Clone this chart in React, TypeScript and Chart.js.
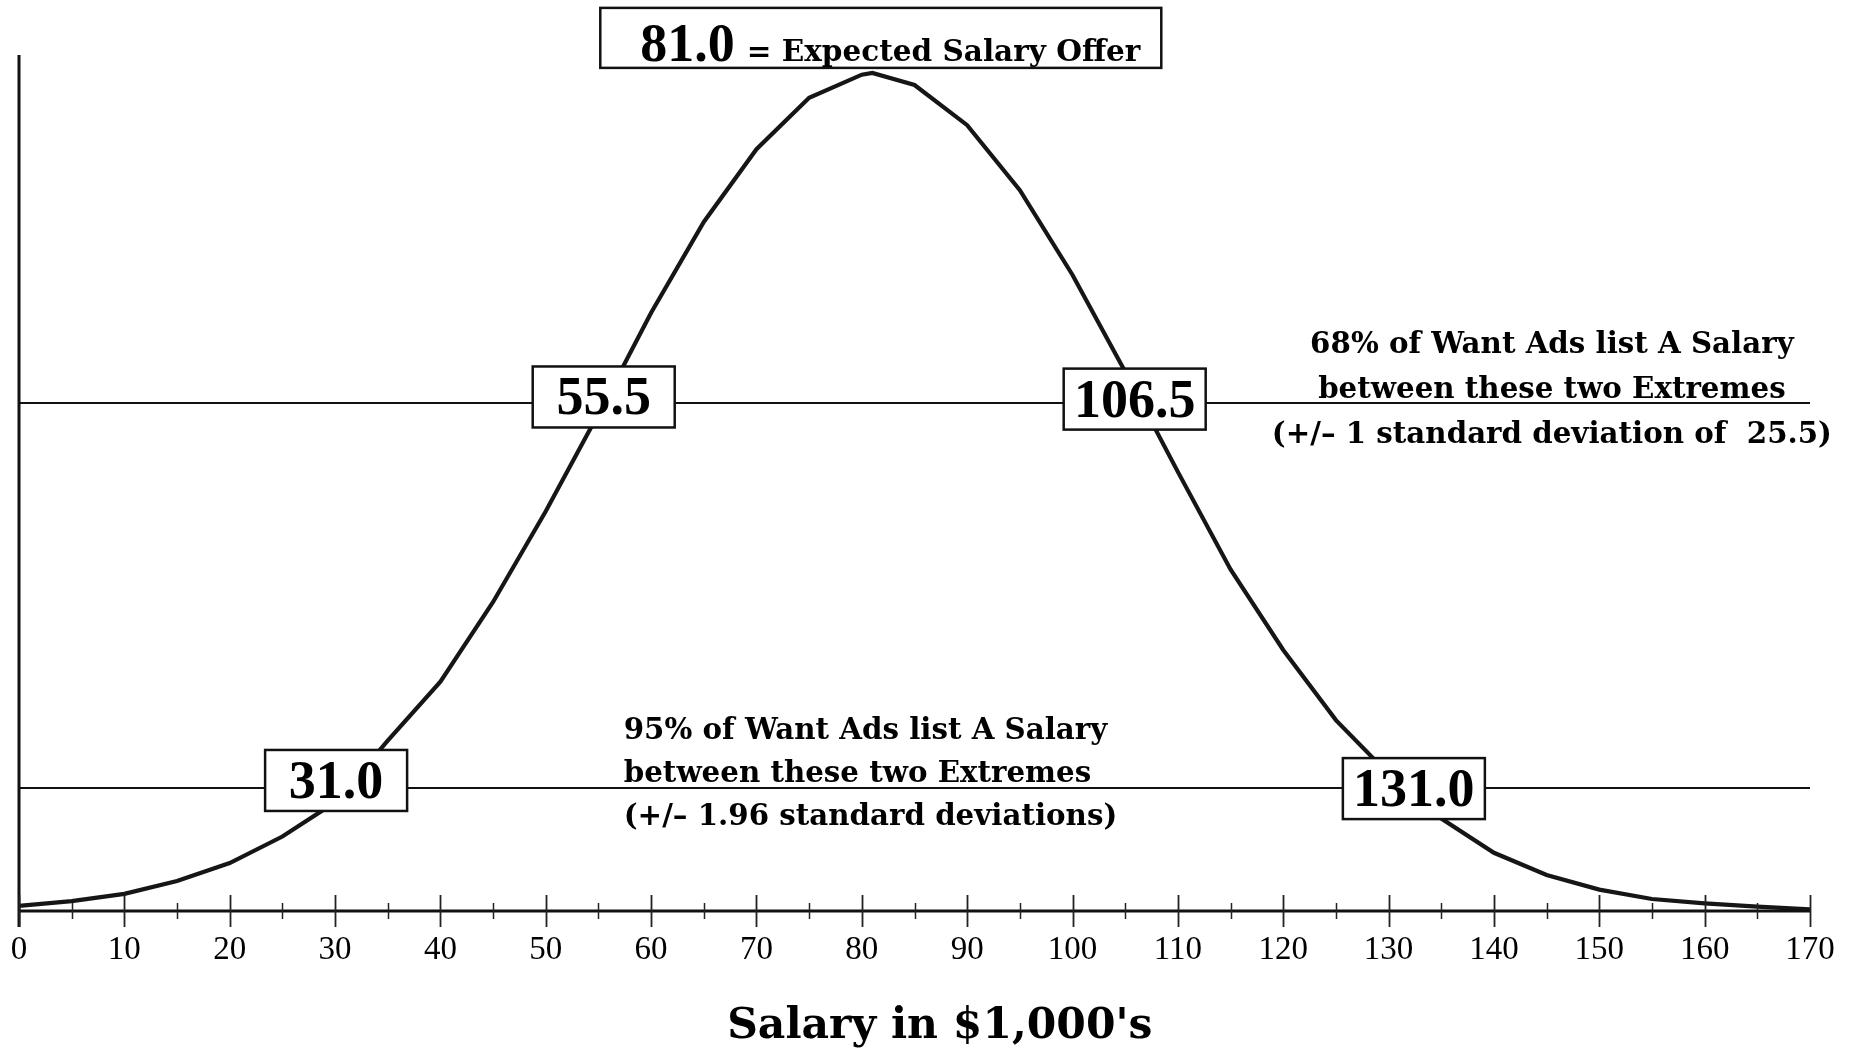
import React, { useEffect, useRef } from 'react';
import { Chart, registerables } from 'chart.js';

Chart.register(...registerables);

// ---- Data ----
const salaryX = [0, 5, 10, 15, 20, 25, 30, 35, 40, 45, 50, 55, 60, 65, 70, 75, 80, 81, 85, 90, 95, 100, 105, 110, 115, 120, 125, 130, 135, 140, 145, 150, 155, 160, 165, 170];
const frequencyY = [0.6, 1.16, 2.0, 3.5, 5.6, 8.7, 12.7, 19.9, 26.8, 36.1, 46.7, 58.1, 69.9, 80.5, 89.0, 95.0, 97.7, 97.9, 96.5, 91.8, 84.2, 74.3, 63.0, 51.3, 39.9, 30.5, 22.3, 16.0, 10.8, 6.8, 4.2, 2.5, 1.4, 0.9, 0.5, 0.2];

const xTickValues = [0, 10, 20, 30, 40, 50, 60, 70, 80, 90, 100, 110, 120, 130, 140, 150, 160, 170];
const xTickLabels = ['0', '10', '20', '30', '40', '50', '60', '70', '80', '90', '100', '110', '120', '130', '140', '150', '160', '170'];
const xMinorTicks = [5, 15, 25, 35, 45, 55, 65, 75, 85, 95, 105, 115, 125, 135, 145, 155, 165];

const xMin = 0;
const xMax = 170;
const yMin = 0;
const yMax = 100;

// level of the horizontal range lines (same units as frequencyY)
const oneSdLevel = 59.35;
const twoSdLevel = 14.37;

// value boxes
const boxLabels = ['55.5', '106.5', '31.0', '131.0'];
const boxX = [55.5, 105.9, 30.1, 132.4];
const boxY = [60.05, 59.8, 15.25, 14.3];

// mean box
const meanValueLabel = '81.0';
const meanText = '= Expected Salary Offer';
const meanBoxX = 81.8;
const meanBoxY = 102.0;

// notes
const note68Lines = ['68% of Want Ads list A Salary', 'between these two Extremes', '(+/\u2013 1 standard deviation of  25.5)'];
const note68X = 145.5;
const note68Y = 65.19;
const note95Lines = ['95% of Want Ads list A Salary', 'between these two Extremes', '(+/\u2013 1.96 standard deviations)'];
const note95X = 57.4;
const note95Y = 20.09;

const axisTitle = "Salary in $1,000's";
const axisTitleX = 87.4;

const INK = '#111111';
const TEXT_FONT = '"DejaVu Serif", "Liberation Serif", serif';
const NUM_FONT = '"Liberation Serif", "DejaVu Serif", serif';

export default function App() {
  const canvasRef = useRef<HTMLCanvasElement | null>(null);

  useEffect(() => {
    const canvas = canvasRef.current;
    if (!canvas) return;

    const annotate = {
      id: 'annotate',
      afterDatasetsDraw(chart: any) {
        const ctx = chart.ctx as CanvasRenderingContext2D;
        const xs = chart.scales.x;
        const ys = chart.scales.y;
        const axisY = ys.getPixelForValue(yMin);
        ctx.save();

        // axes lines
        ctx.strokeStyle = INK;
        ctx.lineWidth = 3;
        ctx.beginPath();
        ctx.moveTo(xs.getPixelForValue(xMin), axisY);
        ctx.lineTo(xs.getPixelForValue(xMax), axisY);
        ctx.stroke();
        ctx.beginPath();
        ctx.moveTo(xs.getPixelForValue(xMin), ys.getPixelForValue(yMax));
        ctx.lineTo(xs.getPixelForValue(xMin), axisY + 16);
        ctx.stroke();

        // ticks
        ctx.strokeStyle = '#222';
        ctx.lineWidth = 1.8;
        xTickValues.forEach((v) => {
          const px = Math.round(xs.getPixelForValue(v)) + 0.5;
          ctx.beginPath();
          ctx.moveTo(px, axisY - 16);
          ctx.lineTo(px, axisY + 16);
          ctx.stroke();
        });
        ctx.lineWidth = 1.5;
        xMinorTicks.forEach((v) => {
          const px = Math.round(xs.getPixelForValue(v)) + 0.5;
          ctx.beginPath();
          ctx.moveTo(px, axisY - 8);
          ctx.lineTo(px, axisY + 8);
          ctx.stroke();
        });

        // value boxes
        const bw = 142;
        const bh = 61;
        boxLabels.forEach((lab, i) => {
          const cx = xs.getPixelForValue(boxX[i]);
          const cy = ys.getPixelForValue(boxY[i]);
          ctx.fillStyle = '#fff';
          ctx.fillRect(cx - bw / 2, cy - bh / 2, bw, bh);
          ctx.strokeStyle = INK;
          ctx.lineWidth = 2.5;
          ctx.strokeRect(cx - bw / 2, cy - bh / 2, bw, bh);
          ctx.fillStyle = '#000';
          ctx.font = `bold 54px ${NUM_FONT}`;
          ctx.textAlign = 'center';
          ctx.textBaseline = 'alphabetic';
          ctx.fillText(lab, cx, cy + 17.5);
        });

        // mean box
        {
          const mw = 561;
          const mh = 60;
          const cx = xs.getPixelForValue(meanBoxX);
          const cy = ys.getPixelForValue(meanBoxY);
          const left = cx - mw / 2;
          const top = cy - mh / 2;
          ctx.fillStyle = '#fff';
          ctx.fillRect(left, top, mw, mh);
          ctx.strokeStyle = INK;
          ctx.lineWidth = 2.5;
          ctx.strokeRect(left, top, mw, mh);
          ctx.fillStyle = '#000';
          ctx.textAlign = 'left';
          ctx.textBaseline = 'alphabetic';
          ctx.font = `bold 54px ${NUM_FONT}`;
          ctx.fillText(meanValueLabel, left + 40, top + 53);
          const w = ctx.measureText(meanValueLabel).width;
          ctx.font = `bold 29.5px ${TEXT_FONT}`;
          ctx.fillText(meanText, left + 40 + w + 12, top + 53);
        }

        // notes
        ctx.fillStyle = '#000';
        ctx.font = `bold 29.3px ${TEXT_FONT}`;
        ctx.textBaseline = 'alphabetic';
        ctx.textAlign = 'center';
        note68Lines.forEach((line, i) => {
          ctx.fillText(line, xs.getPixelForValue(note68X), ys.getPixelForValue(note68Y) + i * 45);
        });
        ctx.textAlign = 'left';
        note95Lines.forEach((line, i) => {
          ctx.fillText(line, xs.getPixelForValue(note95X), ys.getPixelForValue(note95Y) + i * 43);
        });

        // axis title
        ctx.textAlign = 'center';
        ctx.font = `bold 42.5px ${TEXT_FONT}`;
        ctx.fillText(axisTitle, xs.getPixelForValue(axisTitleX), axisY + 127);

        ctx.restore();
      },
    };

    const chart = new Chart(canvas, {
      type: 'line',
      data: {
        datasets: [
          {
            label: 'Distribution',
            data: salaryX.map((x, i) => ({ x, y: frequencyY[i] })),
            borderColor: '#161616',
            borderWidth: 4.2,
            pointRadius: 0,
            tension: 0,
            fill: false,
            clip: false as any,
          },
          {
            label: '1 SD',
            data: [
              { x: xMin, y: oneSdLevel },
              { x: xMax, y: oneSdLevel },
            ],
            borderColor: INK,
            borderWidth: 2,
            pointRadius: 0,
            fill: false,
          },
          {
            label: '1.96 SD',
            data: [
              { x: xMin, y: twoSdLevel },
              { x: xMax, y: twoSdLevel },
            ],
            borderColor: INK,
            borderWidth: 2,
            pointRadius: 0,
            fill: false,
          },
        ],
      },
      options: {
        responsive: false,
        animation: false,
        devicePixelRatio: 1,
        layout: { padding: { left: 19, right: 42, top: 55, bottom: 0 } },
        plugins: {
          legend: { display: false },
          tooltip: { enabled: false },
          title: { display: false },
        },
        scales: {
          x: {
            type: 'linear',
            min: xMin,
            max: xMax,
            grid: { display: false, drawTicks: false },
            border: { display: false },
            afterFit: (s: any) => {
              s.height = 141;
              s.paddingLeft = 0;
              s.paddingRight = 0;
            },
            afterBuildTicks: (s: any) => {
              s.ticks = xTickValues.map((v) => ({ value: v }));
            },
            ticks: {
              autoSkip: false,
              maxRotation: 0,
              padding: 20,
              color: '#000',
              font: { family: NUM_FONT, size: 33 },
              callback: (value: any) => {
                const idx = xTickValues.indexOf(Number(value));
                return idx >= 0 ? xTickLabels[idx] : '';
              },
            },
          },
          y: {
            type: 'linear',
            min: yMin,
            max: yMax,
            display: false,
          },
        },
      },
      plugins: [annotate],
    } as any);

    return () => chart.destroy();
  }, []);

  return (
    <div style={{ position: 'fixed', left: 0, top: 0, width: 1852, height: 1052, background: '#fff' }}>
      <canvas ref={canvasRef} width={1852} height={1052} style={{ display: 'block', width: 1852, height: 1052 }} />
    </div>
  );
}
